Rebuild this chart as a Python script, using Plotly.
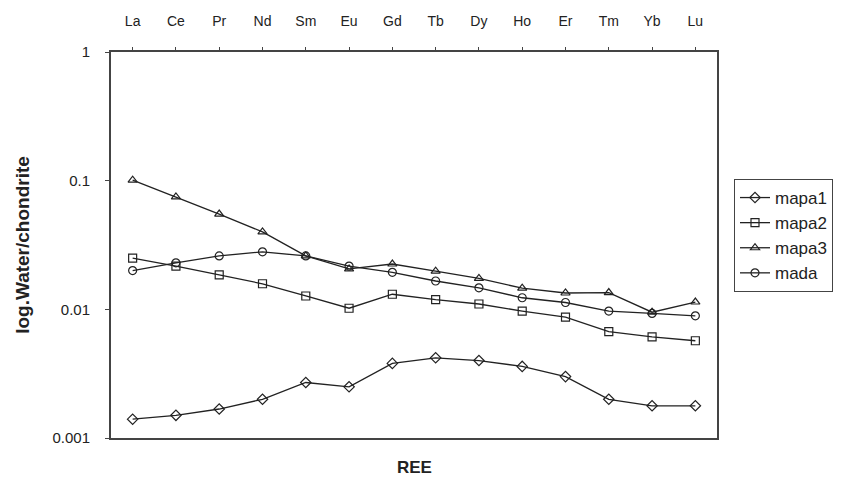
import plotly.graph_objects as go

ree = ["La", "Ce", "Pr", "Nd", "Sm", "Eu", "Gd", "Tb", "Dy", "Ho", "Er", "Tm", "Yb", "Lu"]
mapa1 = [0.0014, 0.0015, 0.00168, 0.0020, 0.0027, 0.0025, 0.0038, 0.0042, 0.0040, 0.0036, 0.0030, 0.0020, 0.00178, 0.00178]
mapa2 = [0.025, 0.0217, 0.0185, 0.0158, 0.0127, 0.0102, 0.0131, 0.0119, 0.0110, 0.0097, 0.0087, 0.0067, 0.0061, 0.0057]
mapa3 = [0.101, 0.0747, 0.055, 0.040, 0.026, 0.0206, 0.0225, 0.0198, 0.0174, 0.0146, 0.0134, 0.0135, 0.0095, 0.0114]
mada = [0.020, 0.023, 0.026, 0.028, 0.026, 0.0217, 0.0194, 0.0166, 0.0147, 0.0123, 0.0113, 0.0097, 0.0093, 0.0089]

series = [("mapa1", mapa1, "diamond-open"), ("mapa2", mapa2, "square-open"),
          ("mapa3", mapa3, "triangle-up-open"), ("mada", mada, "circle-open")]

fig = go.Figure()
for name, vals, sym in series:
    fig.add_trace(go.Scatter(
        x=ree, y=vals, name=name, mode="lines+markers",
        line=dict(color="#222", width=1.3),
        marker=dict(symbol=sym, size=8, color="#222", line=dict(width=1.2, color="#222")),
    ))

W, H = 846, 477
L, T = 103, 44
pw, ph = 606, 386
R = W - L - pw
B = H - T - ph

fig.update_layout(
    width=W, height=H,
    margin=dict(l=L, r=R, t=T, b=B, autoexpand=False),
    paper_bgcolor="white", plot_bgcolor="white",
    font=dict(family="Liberation Sans, Arial, sans-serif", color="#222", size=14),
    showlegend=True,
    legend=dict(
        x=(726 - L) / pw, y=(T + ph - 171) / ph, xanchor="left", yanchor="top",
        bordercolor="#444", borderwidth=1, bgcolor="white",
        font=dict(size=17), tracegroupgap=0, itemwidth=30,
    ),
    xaxis=dict(
        side="top", type="category", range=[-0.5, 13.5], automargin=False,
        showline=True, linecolor="#444", linewidth=2, mirror=True,
        ticks="outside", ticklen=3, tickcolor="#444", showgrid=False,
        tickfont=dict(size=14), ticklabelstandoff=15,
    ),
    yaxis=dict(
        type="log", range=[-3, 0], automargin=False,
        tickvals=[0.001, 0.01, 0.1, 1], ticktext=["0.001", "0.01", "0.1", "1"],
        showline=True, linecolor="#444", linewidth=2, mirror=True,
        ticks="outside", ticklen=4, tickcolor="#444", showgrid=False,
        tickfont=dict(size=15), ticklabelstandoff=12,
        title=dict(text="<b>log.Water/chondrite</b>", font=dict(size=19), standoff=18),
    ),
    annotations=[dict(
        text="<b>REE</b>", x=0.5, y=-(459 - (T + ph)) / ph, xref="paper", yref="paper",
        showarrow=False, xanchor="center", yanchor="middle", font=dict(size=17),
    )],
)

fig.write_html("out.html")
